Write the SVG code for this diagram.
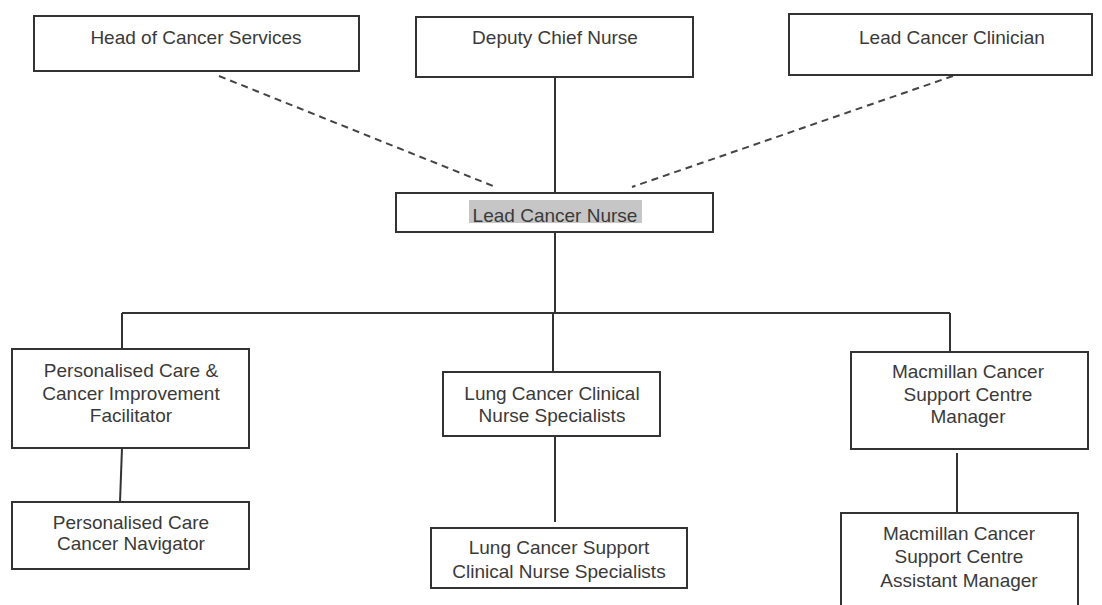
<svg xmlns="http://www.w3.org/2000/svg" width="1102" height="605" viewBox="0 0 1102 605">
<style>
.box{fill:#fff;stroke:#333;stroke-width:2}
.t{font-family:"Liberation Sans",Arial,sans-serif;font-size:19px;fill:#3a3a3a;text-anchor:middle}
.ln{stroke:#333;stroke-width:2;fill:none}
.dash{stroke:#444;stroke-width:2;fill:none;stroke-dasharray:7 5}
</style>
<rect width="1102" height="605" fill="#fff"/>
<g id="connectors">
<path class="dash" d="M219 76 L493 186"/>
<path class="dash" d="M953 76 L632 187"/>
<path class="ln" d="M555 77 V193"/>
<path class="ln" d="M555 232 V313 M122 313 H950 M122 313 V349 M553 313 V372 M950 313 V352"/>
<path class="ln" d="M122 448 L120 502"/>
<path class="ln" d="M555 436 V522"/>
<path class="ln" d="M957 453 V513"/>
</g>
<g id="head-cancer-services"><rect class="box" x="34" y="16" width="325" height="55"/><text class="t" x="196" y="44">Head of Cancer Services</text></g>
<g id="deputy-chief-nurse"><rect class="box" x="416" y="17" width="277" height="60"/><text class="t" x="555" y="44">Deputy Chief Nurse</text></g>
<g id="lead-cancer-clinician"><rect class="box" x="789" y="14" width="303" height="61"/><text class="t" x="952" y="44">Lead Cancer Clinician</text></g>
<g id="lead-cancer-nurse"><rect class="box" x="396" y="193" width="317" height="39"/><rect x="469" y="200" width="173" height="23" fill="#c6c6c6"/><text class="t" x="555" y="222">Lead Cancer Nurse</text></g>
<g id="personalised-care-facilitator"><rect class="box" x="12" y="349" width="237" height="99"/><text class="t" x="131" y="377">Personalised Care &amp;</text><text class="t" x="131" y="400">Cancer Improvement</text><text class="t" x="131" y="422">Facilitator</text></g>
<g id="personalised-care-navigator"><rect class="box" x="12" y="502" width="237" height="67"/><text class="t" x="131" y="529">Personalised Care</text><text class="t" x="131" y="550">Cancer Navigator</text></g>
<g id="lung-cns"><rect class="box" x="443" y="372" width="217" height="64"/><text class="t" x="552" y="400">Lung Cancer Clinical</text><text class="t" x="552" y="422">Nurse Specialists</text></g>
<g id="lung-support-cns"><rect class="box" x="431" y="528" width="256" height="60"/><text class="t" x="559" y="554">Lung Cancer Support</text><text class="t" x="559" y="578">Clinical Nurse Specialists</text></g>
<g id="macmillan-manager"><rect class="box" x="851" y="352" width="237" height="97"/><text class="t" x="968" y="378">Macmillan Cancer</text><text class="t" x="968" y="401">Support Centre</text><text class="t" x="968" y="423">Manager</text></g>
<g id="macmillan-assistant-manager"><rect class="box" x="841" y="513" width="237" height="100"/><text class="t" x="959" y="540">Macmillan Cancer</text><text class="t" x="959" y="563">Support Centre</text><text class="t" x="959" y="587">Assistant Manager</text></g>
</svg>
